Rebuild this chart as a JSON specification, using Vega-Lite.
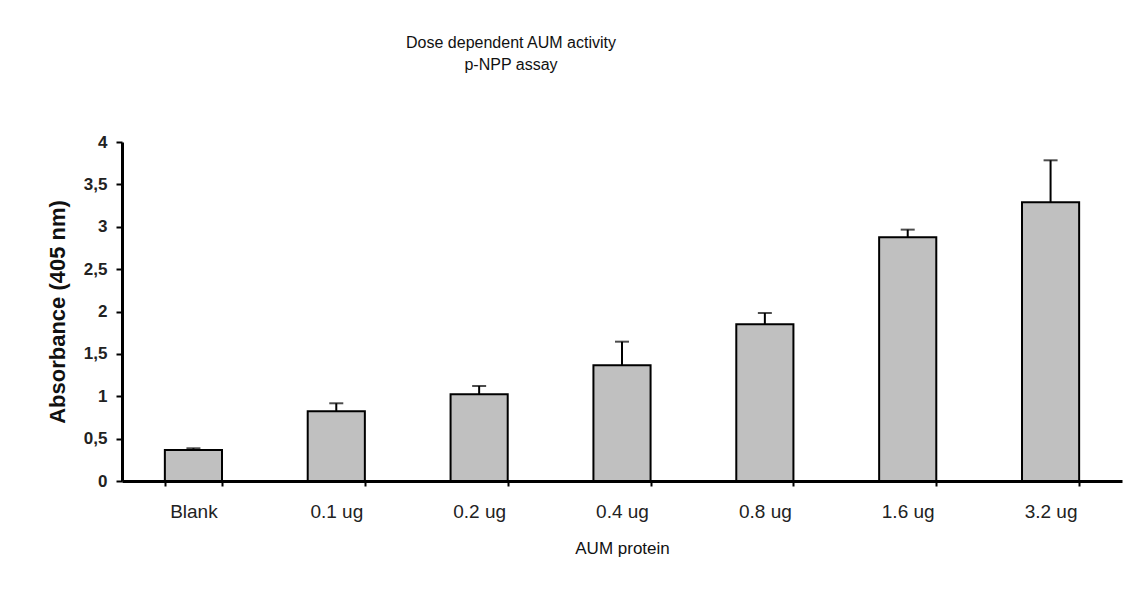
{
  "$schema": "https://vega.github.io/schema/vega-lite/v6.json",
  "width": 1000,
  "height": 339,
  "autosize": {"type": "none"},
  "padding": {"left": 122, "top": 142, "right": 6, "bottom": 108},
  "background": "white",
  "title": {
    "text": ["Dose dependent AUM activity", "p-NPP assay"],
    "anchor": "middle",
    "frame": "group",
    "dx": -111,
    "offset": 60,
    "fontSize": 16,
    "lineHeight": 22,
    "font": "Liberation Sans",
    "fontWeight": "normal",
    "color": "#111"
  },
  "data": {
    "values": [
      {"dose": "Blank", "mean": 0.366, "upper": 0.386},
      {"dose": "0.1 ug", "mean": 0.822, "upper": 0.917},
      {"dose": "0.2 ug", "mean": 1.023, "upper": 1.121},
      {"dose": "0.4 ug", "mean": 1.365, "upper": 1.644},
      {"dose": "0.8 ug", "mean": 1.849, "upper": 1.982},
      {"dose": "1.6 ug", "mean": 2.875, "upper": 2.966},
      {"dose": "3.2 ug", "mean": 3.288, "upper": 3.784}
    ]
  },
  "encoding": {
    "x": {
      "field": "dose",
      "type": "nominal",
      "sort": null,
      "scale": {"paddingInner": 0.6, "paddingOuter": 0.3},
      "axis": {
        "title": "AUM protein",
        "labelAngle": 0,
        "tickBand": "extent",
        "tickSize": 5,
        "tickWidth": 2,
        "tickColor": "black",
        "domainColor": "black",
        "domainWidth": 3,
        "labelFont": "Liberation Sans",
        "labelFontSize": 19,
        "labelColor": "#222",
        "labelPadding": 16,
        "titleFont": "Liberation Sans",
        "titleFontSize": 17,
        "titleFontWeight": "normal",
        "titleColor": "#111",
        "titlePadding": 19
      }
    }
  },
  "layer": [
    {
      "mark": {"type": "rule", "stroke": "black", "strokeWidth": 2},
      "encoding": {
        "y": {"field": "mean", "type": "quantitative"},
        "y2": {"field": "upper"}
      }
    },
    {
      "mark": {"type": "tick", "color": "black", "size": 14, "thickness": 2, "orient": "horizontal"},
      "encoding": {
        "y": {"field": "upper", "type": "quantitative"}
      }
    },
    {
      "mark": {"type": "bar", "fill": "#c0c0c0", "stroke": "black", "strokeWidth": 2},
      "encoding": {
        "y": {
          "field": "mean",
          "type": "quantitative",
          "scale": {"domain": [0, 4], "nice": false},
          "axis": {
            "title": "Absorbance (405 nm)",
            "values": [0, 0.5, 1, 1.5, 2, 2.5, 3, 3.5, 4],
            "labelExpr": "replace(format(datum.value, '~g'), '.', ',')",
            "grid": false,
            "tickSize": 6,
            "tickWidth": 2,
            "tickColor": "black",
            "domainColor": "black",
            "domainWidth": 3,
            "labelFont": "Liberation Sans",
            "labelFontSize": 17,
            "labelFontWeight": "bold",
            "labelColor": "#222",
            "labelPadding": 9,
            "titleFont": "Liberation Sans",
            "titleFontSize": 22,
            "titleFontWeight": "bold",
            "titleColor": "#111",
            "titlePadding": 14
          }
        }
      }
    }
  ],
  "config": {
    "view": {"stroke": null},
    "axis": {"grid": false}
  }
}
